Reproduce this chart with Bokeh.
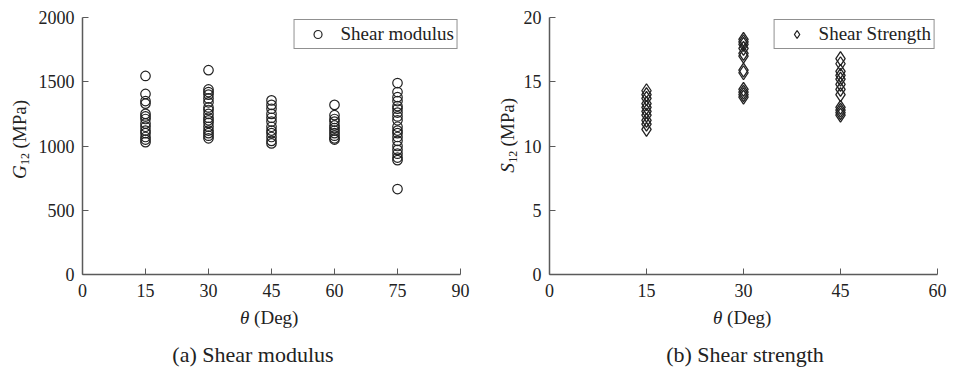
from bokeh.plotting import figure
from bokeh.layouts import row, column
from bokeh.models import Range1d, FixedTicker, Legend, LegendItem, Div
from bokeh.embed import file_html
from bokeh.resources import INLINE

# Shear modulus G12 (MPa) measured at each fibre angle
angle_15_G = [1545, 1405, 1350, 1330, 1250, 1230, 1210, 1175, 1150, 1120, 1100, 1070, 1050, 1030]
angle_30_G = [1590, 1440, 1420, 1400, 1370, 1340, 1300, 1280, 1250, 1220, 1200, 1180, 1150, 1120, 1100, 1080, 1060]
angle_45_G = [1355, 1320, 1290, 1250, 1220, 1190, 1150, 1120, 1100, 1070, 1040, 1020]
angle_60_G = [1320, 1240, 1210, 1190, 1160, 1140, 1120, 1100, 1080, 1060, 1050]
angle_75_G = [1490, 1420, 1380, 1350, 1310, 1290, 1260, 1230, 1200, 1150, 1120, 1100, 1070,
              1040, 1000, 970, 940, 910, 890, 665]

# Shear strength S12 (MPa) measured at each fibre angle
angle_15_S = [14.3, 14.0, 13.7, 13.3, 13.0, 12.7, 12.4, 12.0, 11.7, 11.3]
angle_30_S = [18.3, 18.1, 17.9, 17.6, 17.2, 17.0, 15.9, 15.7, 14.4, 14.2, 14.0, 13.8]
angle_45_S = [16.8, 16.4, 15.8, 15.5, 15.2, 14.8, 14.4, 14.0, 13.0, 12.8, 12.6, 12.4]

g_groups = [(15, angle_15_G), (30, angle_30_G), (45, angle_45_G), (60, angle_60_G), (75, angle_75_G)]
s_groups = [(15, angle_15_S), (30, angle_30_S), (45, angle_45_S)]

g_ticks_x = [0, 15, 30, 45, 60, 75, 90]
g_ticks_y = [0, 500, 1000, 1500, 2000]
s_ticks_x = [0, 15, 30, 45, 60]
s_ticks_y = [0, 5, 10, 15, 20]

FONT = "Liberation Serif"
AXIS_COLOR = "#5a5a5a"
TEXT_COLOR = "#222222"
FIG_H = 306


def flatten(groups):
    xs, ys = [], []
    for ang, vals in groups:
        xs += [ang] * len(vals)
        ys += vals
    return xs, ys


def style(p, xticks, yticks):
    p.xgrid.visible = False
    p.ygrid.visible = False
    p.outline_line_color = None
    p.xaxis.ticker = FixedTicker(ticks=xticks)
    p.yaxis.ticker = FixedTicker(ticks=yticks)
    for ax in (p.xaxis[0], p.yaxis[0]):
        ax.axis_line_color = AXIS_COLOR
        ax.axis_line_width = 1.5
        ax.major_tick_line_color = AXIS_COLOR
        ax.major_tick_in = 6
        ax.major_tick_out = 0
        ax.minor_tick_line_color = None
        ax.major_label_text_font = FONT
        ax.major_label_text_font_size = "18px"
        ax.major_label_text_color = TEXT_COLOR
    p.xaxis.major_label_standoff = 9
    p.yaxis.major_label_standoff = 8


def add_legend(p, renderer, label, glyph_w):
    leg = Legend(items=[LegendItem(label=label, renderers=[renderer])],
                 location="top_right", label_text_font=FONT, label_text_font_size="19px",
                 label_text_color=TEXT_COLOR, border_line_color="#222222", border_line_width=1,
                 padding=3, margin=2, spacing=0, glyph_width=glyph_w, glyph_height=20,
                 label_standoff=3, label_height=20, background_fill_alpha=1.0)
    p.add_layout(leg, "center")


BASE_CSS = f"font-family:'{FONT}';color:{TEXT_COLOR};white-space:nowrap;position:absolute;"


def y_title(sym, width, center_x, top):
    # vertical title reading bottom to top, italic symbol with subscript
    html = (f"<div style=\"position:relative;width:{width}px;height:{FIG_H}px;\">"
            f"<div style=\"{BASE_CSS}font-size:19px;line-height:20px;left:{center_x - 10}px;"
            f"top:{top}px;writing-mode:vertical-rl;transform:rotate(180deg);\">"
            f"<i>{sym}</i><span style=\"font-size:12px;position:relative;left:-5px;\">12</span>"
            f" (MPa)</div></div>")
    return Div(text=html, width=width, height=FIG_H, margin=0)


def bottom_titles():
    spans = []
    for x in (240, 713):
        spans.append(f"<div style=\"{BASE_CSS}font-size:19px;line-height:22px;left:{x}px;top:1px;\">"
                     f"<i>θ</i> (Deg)</div>")
    for cx, cap in ((253, "(a) Shear modulus"), (745, "(b) Shear strength")):
        spans.append(f"<div style=\"{BASE_CSS}font-size:22px;line-height:26px;left:{cx - 150}px;"
                     f"width:300px;text-align:center;top:36px;\">{cap}</div>")
    html = (f"<div style=\"position:relative;width:954px;height:{374 - FIG_H}px;\">"
            + "".join(spans) + "</div>")
    return Div(text=html, width=954, height=374 - FIG_H, margin=0)


# (a) shear modulus
p1 = figure(frame_width=378, frame_height=257, output_backend="svg", toolbar_location=None,
            x_range=Range1d(0, 90), y_range=Range1d(0, 2000),
            min_border_left=52, min_border_right=17, min_border_top=17, min_border_bottom=32)
style(p1, g_ticks_x, g_ticks_y)
gx, gy = flatten(g_groups)
r1 = p1.scatter(gx, gy, marker="circle", size=9.5, fill_color=None,
                line_color="#222222", line_width=1.2)
add_legend(p1, r1, "Shear modulus", 40)

# (b) shear strength
p2 = figure(frame_width=388, frame_height=257, output_backend="svg", toolbar_location=None,
            x_range=Range1d(0, 60), y_range=Range1d(0, 20),
            min_border_left=32, min_border_right=17, min_border_top=17, min_border_bottom=32)
style(p2, s_ticks_x, s_ticks_y)
sx, sy = flatten(s_groups)
r2 = p2.scatter(sx, sy, marker="diamond", size=14, fill_color=None,
                line_color="#222222", line_width=1.3)
add_legend(p2, r2, "Shear Strength", 38)

top = row(y_title("G", 30, 20, 100), p1, y_title("S", 40, 31, 98), p2, spacing=0)
layout = column(top, bottom_titles(), spacing=0)
open("out.html", "w").write(file_html(layout, INLINE))
